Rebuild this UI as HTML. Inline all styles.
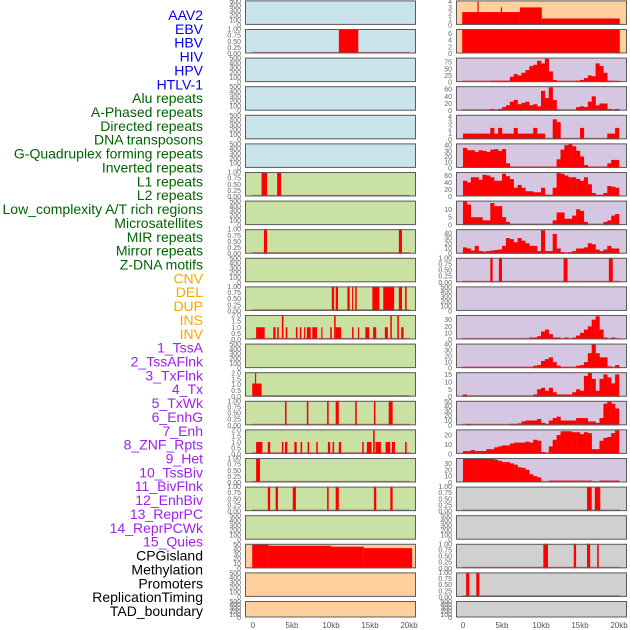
<!DOCTYPE html>
<html><head><meta charset="utf-8"><style>
html,body{margin:0;padding:0;background:#fff;width:630px;height:630px;overflow:hidden}
svg{display:block}
.lab{font-family:"Liberation Sans",sans-serif;font-size:14px}
.tk{font-family:"Liberation Sans",sans-serif;font-size:7px;fill:#666}
.xt{font-family:"Liberation Sans",sans-serif;font-size:8px;fill:#555}
</style></head><body>
<svg id="chart" width="630" height="630" viewBox="0 0 630 630"></svg>
<script>
// ---- data ----
const trackLabels=["AAV2","EBV","HBV","HIV","HPV","HTLV-1","Alu repeats","A-Phased repeats","Directed repeats","DNA transposons","G-Quadruplex forming repeats","Inverted repeats","L1 repeats","L2 repeats","Low_complexity A/T rich regions","Microsatellites","MIR repeats","Mirror repeats","Z-DNA motifs","CNV","DEL","DUP","INS","INV","1_TssA","2_TssAFlnk","3_TxFlnk","4_Tx","5_TxWk","6_EnhG","7_Enh","8_ZNF_Rpts","9_Het","10_TssBiv","11_BivFlnk","12_EnhBiv","13_ReprPC","14_ReprPCWk","15_Quies","CPGisland","Methylation","Promoters","ReplicationTiming","TAD_boundary"];
const labelGroups=[6,13,5,15,5]; // blue, green, orange, purple, black
const xTickKb=[0,5,10,15,20];
const xTickLabels=["0","5kb","10kb","15kb","20kb"];
const ticks500=[0,100,200,300,400,500];
const ticks01=[0,0.25,0.5,0.75,1];
const ticks02=[0,0.5,1,1.5,2];
// left column events [startKb,endKb,height]
const hbvEvents=[[11,13.5,1]];
const l1Events=[[1.1,1.8,1],[3.1,3.6,1]];
const mirEvents=[[1.4,1.8,1],[18.7,19.1,1]];
const delEvents=[[10.1,10.4,1],[10.6,10.9,1],[12.1,12.4,1],[12.7,12.85,1],[13.1,13.3,1],[15.3,16.2,1],[16.7,18.1,1],[18.7,19.1,1],[19.5,19.7,1]];
const insEvents=[[0.4,1.5,1],[2.6,2.9,1],[3.1,3.3,1],[3.7,3.9,2],[4.2,4.4,1],[5.5,5.7,1],[6.0,6.2,1],[6.55,6.7,1],[6.9,7.4,1],[7.6,8.2,1],[8.75,8.9,1],[9.9,10.1,1],[10.4,10.6,2],[10.6,11.3,1],[12.7,12.9,1],[13.45,13.6,1],[14.4,14.9,1],[15.4,15.8,1],[16.9,17.3,1],[17.6,17.8,2],[18.5,18.7,2],[19.0,19.3,1]];
const txEvents=[[-0.1,1.1,1.1],[0.25,0.35,2]];
const txWkEvents=[[4.1,4.3,1],[6.9,7.1,1],[9.5,9.7,1],[10.6,11.0,1],[13.1,13.3,1],[15.5,15.7,1],[17.4,17.9,1]];
const znfEvents=[[0.4,1.2,1],[1.9,2.2,1],[3.7,3.9,1],[4.1,4.4,1],[5.3,5.6,1],[6.1,6.3,1],[7.0,7.2,1],[8.1,8.3,1],[9.6,9.9,1],[10.2,10.4,1],[11.0,11.3,1],[14.0,14.2,1],[14.6,15.2,1],[15.4,15.6,2],[15.7,16.4,1],[17.0,17.6,1],[17.8,18.2,1],[19.5,19.7,1]];
const hetEvents=[[0.4,0.9,1]];
const bivEvents=[[1.9,2.2,1],[2.9,3.2,1],[5.1,5.5,1],[9.5,9.7,1],[10.6,11.0,1],[15.5,15.8,1],[17.6,17.9,1]];
const cpgEvents=[[-0.1,2,50],[2,10,47],[10,14.2,45],[14.2,20.4,42]];
// right column
const aav2Steps=[[-0.1,7.3,2.2],[1.85,2.0,4],[4.85,5.0,3],[7.3,10.1,3],[10.1,20.1,1.1]];
const ebvSteps=[[-0.1,20.1,7]];
const hpvBins=[0,0,0,0,0,0,0,5,5,5,5,5,20,30,25,35,45,60,65,80,70,88,40,8,0,0,0,0,0,5,8,15,25,22,70,60,35,5,0,0];
const aluBins=[0,0,0,0,0,0,0,5,2,5,10,15,25,30,18,22,25,15,18,12,55,35,65,30,3,0,0,0,0,10,12,10,25,40,15,20,20,5,3,5];
const directedBins=[1,1,1,1,1,1,1,2,1,2,1,1,1,2,1,1,1,1,2,1,1,0,0,3.5,3,0,0,0,0,0,2,0,0,0,0,0,0,1,1,2];
const gquadBins=[35,31,31,28,31,30,28,32,33,30,33,8,0,0,0,0,0,0,0,0,0,0,0,0,15,32,40,42,38,30,20,5,0,0,0,0,0,8,14,14];
const l1Bins=[45,40,55,55,48,62,60,55,45,45,65,58,50,25,33,25,15,15,12,12,25,5,5,25,68,65,60,55,55,50,45,55,35,10,5,5,10,30,28,25];
const lowcBins=[15,13,5,5,5,3,3,14,12,12,5,2,0,0,0,0,0,0,0,0,0,0,0,3,8,8,4,4,6,10,9,2,0,0,0,0,2,3,6,7];
const mirBins=[12,10,6,15,5,4,5,6,7,8,15,30,28,22,30,25,20,15,15,5,45,5,5,38,10,3,0,3,5,10,10,12,20,18,8,5,8,15,10,10];
const zdnaEvents=[[3.5,3.8,1],[4.6,5.0,1],[12.9,13.4,1],[18.7,19.2,1]];
const insBins=[0,0,0,0,0,0,0,0,0,0,0,0,0,0,0,0,0,3,3,5,12,15,8,3,3,0,3,0,3,6,10,15,20,30,35,15,3,0,3,0];
const tssaBins=[0,0,0,0,0,0,0,0,0,0,0,0,0,0,0,0,0,0,4,5,12,15,18,10,4,0,2,0,0,4,5,10,25,40,25,18,18,3,0,5];
const txflnkBins=[1.5,0,0,0,0,0,0,0,0,0,0,0,0,0,0,0,0,0,1.5,5,6,4,6,3,1.5,1.5,1.5,1.5,3,5,4,14,16,12,4,12,15,13,9,15];
const txwkBins=[0,3,0,0,0,0,0,0,0,0,0,0,3,3,4,8,10,10,10,13,5,3,10,15,18,10,10,10,10,15,15,15,8,8,5,15,45,50,45,35];
const enhBins=[3,3,4,3,3,3,5,5,7,8,9,9,11,12,12,12,13,12,15,14,2,1,8,15,20,24,24,24,23,23,21,23,22,5,5,14,17,18,22,25];
const hetBins=[38,38,37,38,38,38,38,37,36,34,32,32,30,28,24,23,20,13,10,8,0,0,3,3,3,3,3,3,3,3,3,3,3,0,0,3,3,3,3,3];
const bivFlnkEvents=[[15.9,16.5,1],[16.9,17.6,1]];
const cpgREvents=[[10.3,10.9,1],[14.2,14.5,1],[15.9,16.3,1],[17.2,17.4,1]];
const promEvents=[[0.4,0.8,1],[1.7,2.1,1]];

// ---- layout ----
const NS="http://www.w3.org/2000/svg";
const svg=document.getElementById("chart");
const COLS=[{x0:245,x1:416,zero:253},{x0:456,x1:627,zero:463}];
const PXKB=7.8;
const BG={blue:"#c9e4eb",green:"#c9e1a3",orange:"#ffd09e",purple:"#d5c6e2",gray:"#d0d0d0"};
function rowTop(i){return 0.4+i*28.6;}
function rowH(i){return i===21?16.5:24.5;}
function xScale(col,kb){return COLS[col].zero+kb*PXKB;}
function mk(tag,attrs,parent){const e=document.createElementNS(NS,tag);for(const k in attrs)e.setAttribute(k,attrs[k]);(parent||svg).appendChild(e);return e;}

const panels=[
 [0,0,"blue",null,null,510,ticks500],[1,0,"orange","steps",aav2Steps,4.2,[0,1,2,3,4]],
 [0,1,"blue","events",hbvEvents,1,ticks01],[1,1,"orange","steps",ebvSteps,7.3,[0,2,4,6]],
 [0,2,"blue",null,null,510,ticks500],[1,2,"purple","hist",hpvBins,92,[0,25,50,75]],
 [0,3,"blue",null,null,510,ticks500],[1,3,"purple","hist",aluBins,68,[0,20,40,60]],
 [0,4,"blue",null,null,510,ticks500],[1,4,"purple","hist",directedBins,4.3,[0,1,2,3,4]],
 [0,5,"blue",null,null,510,ticks500],[1,5,"purple","hist",gquadBins,43,[0,10,20,30,40]],
 [0,6,"green","events",l1Events,1,ticks01],[1,6,"purple","hist",l1Bins,70,[0,20,40,60]],
 [0,7,"green",null,null,510,ticks500],[1,7,"purple","hist",lowcBins,15.5,[0,5,10]],
 [0,8,"green","events",mirEvents,1,ticks01],[1,8,"purple","hist",mirBins,47,[0,10,20,30,40]],
 [0,9,"green",null,null,510,ticks500],[1,9,"purple","events",zdnaEvents,1,ticks01],
 [0,10,"green","events",delEvents,1,ticks01],[1,10,"purple",null,null,510,ticks500],
 [0,11,"green","events",insEvents,2,ticks02],[1,11,"purple","hist",insBins,37,[0,10,20,30]],
 [0,12,"green",null,null,510,ticks500],[1,12,"purple","hist",tssaBins,41,[0,10,20,30,40]],
 [0,13,"green","events",txEvents,2.05,ticks02],[1,13,"purple","hist",txflnkBins,16.5,[0,5,10,15]],
 [0,14,"green","events",txWkEvents,1,ticks01],[1,14,"purple","hist",txwkBins,51,[0,10,20,30,40,50]],
 [0,15,"green","events",znfEvents,2.05,ticks02],[1,15,"purple","hist",enhBins,26,[0,10,20]],
 [0,16,"green","events",hetEvents,1,ticks01],[1,16,"purple","hist",hetBins,38.5,[0,10,20,30]],
 [0,17,"green","events",bivEvents,1,ticks01],[1,17,"gray","events",bivFlnkEvents,1,ticks01],
 [0,18,"green",null,null,510,ticks500],[1,18,"gray",null,null,510,ticks500],
 [0,19,"orange","events",cpgEvents,51,[0,10,20,30,40,50]],[1,19,"gray","events",cpgREvents,1,ticks01],
 [0,20,"orange",null,null,510,ticks500],[1,20,"gray","events",promEvents,1,ticks01],
 [0,21,"orange",null,null,510,ticks500],[1,21,"gray",null,null,510,ticks500]
];
function fmt(v,ticks){const dec=ticks.some(t=>t%1!==0);if(!dec)return String(v);return ticks.some(t=>(t*100)%50!==0)?v.toFixed(2):v.toFixed(1);}

panels.forEach(function(p){
 const col=p[0],row=p[1],bg=p[2],kind=p[3],data=p[4],ymax=p[5],ticks=p[6];
 const top=rowTop(row),h=rowH(row),x0=COLS[col].x0,x1=COLS[col].x1;
 const yS=v=>top+h-(v/ymax)*h;
 const g=mk("g",{});
 
 
 mk("rect",{x:x0,y:top,width:x1-x0,height:h,fill:BG[bg]},g);
 if(kind){
  mk("line",{x1:xScale(col,-0.1),x2:xScale(col,20.1),y1:top+h-0.8,y2:top+h-0.8,stroke:"rgba(205,60,60,0.7)","stroke-width":1.6},g);
 }
 if(kind==="events"||kind==="steps"){
  data.forEach(function(d){
   const r=mk("rect",{x:xScale(col,d[0]),y:yS(d[2]),width:Math.max(1.2,(d[1]-d[0])*PXKB),height:top+h-yS(d[2]),fill:"#ff0000"},g);
   
   
  });
 } else if(kind==="hist"){
  data.forEach(function(v,i){
   if(v<=0)return;
   const r=mk("rect",{x:xScale(col,i*0.5),y:yS(v),width:0.5*PXKB+0.2,height:top+h-yS(v),fill:"#ff0000"},g);
   
   
  });
 }
 mk("rect",{x:x0+0.5,y:top+0.5,width:x1-x0-1,height:h-1,fill:"none",stroke:"#5c5c5c","stroke-width":1},g);
 ticks.forEach(function(t){
  const tx=mk("text",{x:x0-4,y:yS(t)+2.5,"text-anchor":"end",class:"tk"},g);
  tx.textContent=fmt(t,ticks);
  
  
 });
});

// x axis ticks
[0,1].forEach(function(col){
 xTickKb.forEach(function(k,i){
  const t=mk("text",{x:xScale(col,k),y:628,"text-anchor":"middle",class:"xt"});
  t.textContent=xTickLabels[i];
  
  
 });
});

// track labels
const groupColors=["#0000ee","#006400","#ffa500","#a020f0","#000000"];
let gi=0,cnt=0;
trackLabels.forEach(function(name,i){
 while(cnt>=labelGroups[gi]){cnt=0;gi++;}
 cnt++;
 const t=mk("text",{x:203,y:20+i*13.86,"text-anchor":"end",class:"lab",fill:groupColors[gi]});
 t.textContent=name;
 
 
});
</script>
</body></html>
